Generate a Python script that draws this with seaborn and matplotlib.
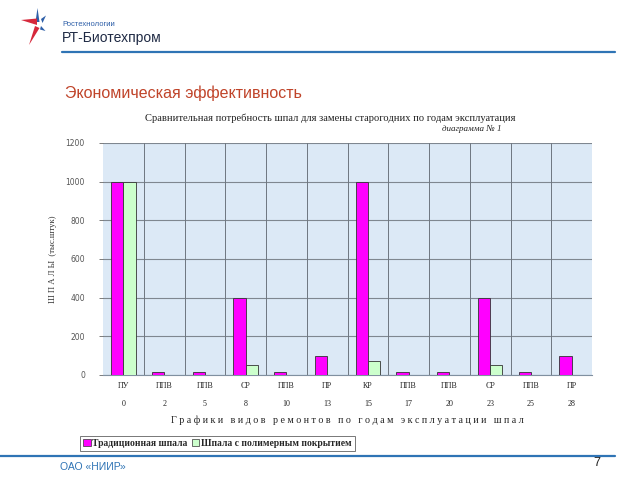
import matplotlib
matplotlib.use("Agg")
import matplotlib.pyplot as plt
from matplotlib.patches import Polygon, Patch
from matplotlib.lines import Line2D
import seaborn as sns
import pandas as pd

# ---- data ----
codes = ["ПУ", "ППВ", "ППВ", "СР", "ППВ", "ПР", "КР", "ППВ", "ППВ", "СР", "ППВ", "ПР"]
years = [0, 2, 5, 8, 10, 13, 15, 17, 20, 23, 25, 28]
traditional = [1000, 15, 15, 400, 15, 100, 1000, 15, 15, 400, 15, 100]
polymer = [1000, 0, 0, 50, 0, 0, 75, 0, 0, 50, 0, 0]
series_names = ["Традиционная шпала", "Шпала с полимерным покрытием"]
yticks = [0, 200, 400, 600, 800, 1000, 1200]

labels = [f"{c}\n\n{y}" for c, y in zip(codes, years)]
df = pd.DataFrame({
    "cat": labels * 2,
    "val": traditional + polymer,
    "series": [series_names[0]] * len(labels) + [series_names[1]] * len(labels),
})

sns.set_theme(style="white")
plt.rcParams["font.family"] = ["DejaVu Sans"]

W, H = 640, 480
fig = plt.figure(figsize=(6.4, 4.8), dpi=100)
fig.patch.set_facecolor("white")

def px(x, y):
    return (x / W, 1 - y / H)

# ---- slide header ----
red = "#D6283B"
blue = "#2E5FA8"
star_shapes = [
    ([(35.5, 22), (37.5, 8), (39.5, 22)], blue),    # top spike
    ([(21, 20), (37, 18.5), (37, 25)], red),        # left spike
    ([(29, 45), (35, 26), (39.5, 28)], red),        # bottom spike
    ([(41, 19), (46, 15.5), (42.5, 23)], blue),     # right upper
    ([(41, 26), (45.5, 31), (40, 29.5)], blue),     # right lower
]
for pts, col in star_shapes:
    fig.patches.append(Polygon([px(*p) for p in pts], closed=True, transform=fig.transFigure,
                               facecolor=col, edgecolor="none"))
fig.text(*px(62, 24), "Ростехнологии", fontsize=5.5, color="#2E5FA8", va="center", ha="left",
         family="Liberation Sans")
fig.text(*px(62, 38), "РТ-Биотехпром", fontsize=10, color="#1F2A44", va="center", ha="left",
         family="Liberation Sans")
fig.add_artist(Line2D([62 / W, 615 / W], [1 - 52 / H, 1 - 52 / H], transform=fig.transFigure,
                      color="#2F74B5", lw=1.6))
fig.text(*px(65, 93), "Экономическая эффективность", fontsize=11.5, color="#C0442A",
         va="center", ha="left", family="Liberation Sans")

# ---- footer ----
fig.add_artist(Line2D([0, 615 / W], [1 - 456 / H, 1 - 456 / H], transform=fig.transFigure,
                      color="#2F74B5", lw=1.6))
fig.text(*px(60, 467), "ОАО «НИИР»", fontsize=7.5, color="#2F74B5", va="center", ha="left",
         family="Liberation Sans")
fig.text(*px(597, 463), "7", fontsize=9, color="#222222", va="center", ha="center",
         family="Liberation Sans")

# ---- chart ----
left, right, top, bottom = 103, 592, 143, 375
ax = fig.add_axes([left / W, 1 - bottom / H, (right - left) / W, (bottom - top) / H])
ax.set_facecolor("#DCE9F6")

sns.barplot(data=df, x="cat", y="val", hue="series", order=labels, hue_order=series_names,
            palette=["#FF00FF", "#CCFFCC"], saturation=1, width=0.6, gap=0,
            edgecolor="#333333", linewidth=0.6, ax=ax, legend=False, zorder=3)

ax.set_ylim(0, 1200)
ax.set_yticks(yticks)
ax.set_yticklabels([str(t) for t in yticks], fontsize=5.5, color="#555555")
ax.set_xlim(-0.5, len(labels) - 0.5)
ax.set_xticks(range(len(labels)))
ax.set_xticklabels(labels, fontsize=5.8, family="Liberation Serif", color="#222222")
ax.tick_params(axis="x", length=0, pad=5)
ax.tick_params(axis="y", length=3, width=0.6, color="#666666", direction="out", pad=10, left=True)
ax.grid(axis="y", color="#7F8790", lw=0.8, zorder=1)
ax.set_axisbelow(True)
for b in range(1, len(labels)):
    ax.axvline(b - 0.5, color="#6E7680", lw=0.7, zorder=1)
for s in ["top", "right", "left"]:
    ax.spines[s].set_visible(False)
ax.spines["bottom"].set_color("#8090A0")
ax.spines["bottom"].set_linewidth(0.8)
ax.set_xlabel("")
ax.set_ylabel("Ш П А Л Ы  (тыс.штук)", fontsize=6.2, family="Liberation Serif",
              color="#333333", labelpad=6)

fig.text(*px(330, 118), "Сравнительная потребность шпал для замены старогодних по годам эксплуатация",
         fontsize=7.6, family="Liberation Serif", ha="center", va="center", color="#222222")
fig.text(*px(472, 129), "диаграмма № 1", fontsize=6.5, family="Liberation Serif", style="italic",
         ha="center", va="center", color="#222222")
fig.text(*px(347, 420), "Г р а ф и к и   в и д о в   р е м о н т о в   п о   г о д а м   "
         "э к с п л у а т а ц и и   ш п а л", fontsize=7.2, family="Liberation Serif",
         ha="center", va="center", color="#222222")

handles = [Patch(facecolor="#FF00FF", edgecolor="#333333", lw=0.5),
           Patch(facecolor="#CCFFCC", edgecolor="#333333", lw=0.5)]
leg = fig.legend(handles, series_names, loc="lower left", bbox_to_anchor=px(80, 451), ncol=2,
                 prop={"family": "Liberation Serif", "weight": "bold", "size": 6.9},
                 frameon=True, fancybox=False, edgecolor="#555555", handlelength=0.8,
                 handleheight=0.8, handletextpad=0.2, columnspacing=0.4,
                 borderpad=0.3, borderaxespad=0)
leg.get_frame().set_linewidth(0.7)

fig.savefig("out.png", dpi=100, facecolor="white")
